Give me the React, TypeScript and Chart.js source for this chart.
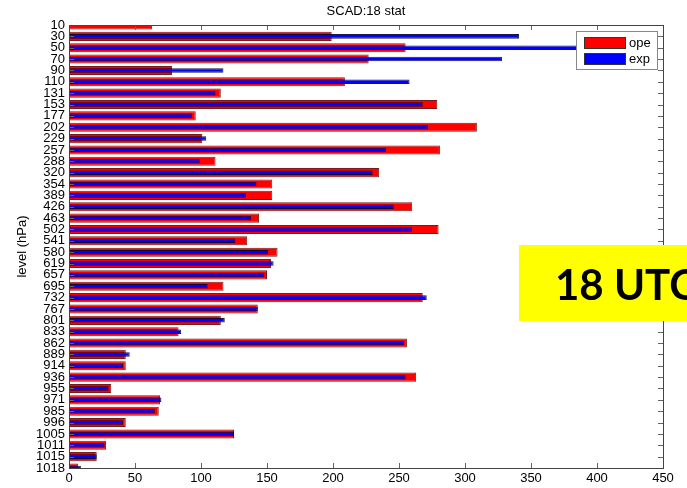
import React, { useEffect, useRef } from 'react';
import { Chart, registerables } from 'chart.js';

Chart.register(...registerables);

const levels = ['10','30','50','70','90','110','131','153','177','202','229','257','288','320','354','389','426','463','502','541','580','619','657','695','732','767','801','833','862','889','914','936','955','971','985','996','1005','1011','1015','1018'];
const opeValues = [63,199,255,227,78,209,115,279,96,309,101,281,111,235,154,154,260,144,280,135,158,153,150,117,268,143,115,83,256,43,43,263,32,69,68,43,125,28,21,7];
const expValues = [0,341,395,328,117,258,111,268,93,272,104,240,99,230,142,134,246,138,260,126,151,155,148,105,271,143,118,85,254,46,41,255,30,70,65,41,125,27,21,9];
const xTickValues = [0,50,100,150,200,250,300,350,400,450];
const seriesNames = ['ope', 'exp'];
const seriesColors = ['#ff0000', '#0000ff'];
const titleText = 'SCAD:18 stat';
const yAxisTitle = 'level (hPa)';
const stampText = '18 UTC';

const FONT = '"Liberation Sans", Arial, Helvetica, sans-serif';

const decorPlugin = {
  id: 'decor',
  afterDatasetsDraw(chart: any) {
    const ctx = chart.ctx as CanvasRenderingContext2D;
    const { left, right, top, bottom } = chart.chartArea;
    const xs = chart.scales.x;
    const ys = chart.scales.y;
    ctx.save();
    // ticks
    ctx.strokeStyle = '#666';
    ctx.lineWidth = 1;
    const tl = 5;
    ctx.beginPath();
    xTickValues.forEach((v) => {
      const px = Math.round(xs.getPixelForValue(v)) + 0.5;
      ctx.moveTo(px, top);
      ctx.lineTo(px, top + tl);
      ctx.moveTo(px, bottom);
      ctx.lineTo(px, bottom - tl);
    });
    levels.forEach((_, i) => {
      const py = Math.round(ys.getPixelForValue(i)) + 0.5;
      ctx.moveTo(left, py);
      ctx.lineTo(left + tl, py);
      ctx.moveTo(right, py);
      ctx.lineTo(right - tl, py);
    });
    ctx.stroke();
    // frame
    ctx.strokeStyle = '#444';
    ctx.strokeRect(Math.round(left) + 0.5, Math.round(top) + 0.5, Math.round(right - left), Math.round(bottom - top));

    // legend
    const lx = right - 87, ly = top + 6, lw = 81, lh = 38;
    ctx.fillStyle = '#fff';
    ctx.fillRect(lx, ly, lw, lh);
    ctx.strokeStyle = '#888';
    ctx.strokeRect(lx + 0.5, ly + 0.5, lw, lh);
    seriesNames.forEach((name, i) => {
      const sy = ly + 6 + i * 16;
      ctx.fillStyle = seriesColors[i];
      ctx.fillRect(lx + 8, sy, 42, 12);
      ctx.strokeStyle = '#333';
      ctx.strokeRect(lx + 8.5, sy + 0.5, 41, 11);
      ctx.fillStyle = '#000';
      ctx.font = `13px ${FONT}`;
      ctx.textBaseline = 'middle';
      ctx.textAlign = 'left';
      ctx.fillText(name, lx + 53, sy + 6.5);
    });

    // title
    ctx.fillStyle = '#000';
    ctx.font = `13px ${FONT}`;
    ctx.textAlign = 'center';
    ctx.textBaseline = 'middle';
    ctx.fillText(titleText, (left + right) / 2, 11);

    // y axis title
    ctx.save();
    ctx.translate(22.5, (top + bottom) / 2);
    ctx.rotate(-Math.PI / 2);
    ctx.fillText(yAxisTitle, 0, 0);
    ctx.restore();

    // yellow stamp
    ctx.fillStyle = '#ffff00';
    ctx.fillRect(519, 245, 168, 76);
    ctx.fillStyle = '#000';
    ctx.font = `bold 42px Lato, "Open Sans", sans-serif`;
    ctx.textAlign = 'left';
    ctx.textBaseline = 'alphabetic';
    ctx.fillText(stampText, 555, 300);
    ctx.restore();
  },
};

export default function App() {
  const ref = useRef<HTMLCanvasElement | null>(null);
  useEffect(() => {
    document.body.style.margin = '0';
    const canvas = ref.current;
    if (!canvas) return;
    const chart = new Chart(canvas, {
      type: 'bar',
      data: {
        labels: levels,
        datasets: [
          {
            label: seriesNames[0],
            data: opeValues,
            backgroundColor: seriesColors[0],
            borderColor: 'rgba(110,0,0,0.9)',
            borderWidth: 1,
            borderSkipped: false,
            grouped: false,
            categoryPercentage: 1,
            barPercentage: 0.8,
            order: 2,
          } as any,
          {
            label: seriesNames[1],
            data: expValues,
            backgroundColor: seriesColors[1],
            borderColor: 'rgba(0,0,50,0.9)',
            borderWidth: 1,
            borderSkipped: false,
            grouped: false,
            categoryPercentage: 1,
            barPercentage: 0.4,
            order: 1,
          } as any,
        ],
      },
      options: {
        indexAxis: 'y',
        responsive: false,
        animation: false,
        layout: { padding: { top: 25, right: 24, bottom: 0, left: 0 } },
        plugins: { legend: { display: false }, title: { display: false }, tooltip: { enabled: false } },
        scales: {
          x: {
            type: 'linear',
            min: 0,
            max: 450,
            grid: { display: false, drawTicks: false },
            border: { display: false },
            ticks: {
              stepSize: 50,
              color: '#000',
              font: { family: FONT, size: 13 },
              padding: 3,
              maxRotation: 0,
            },
            afterFit: (s: any) => { s.height = 20; },
          },
          y: {
            type: 'category',
            offset: false,
            grid: { display: false, drawTicks: false },
            border: { display: false },
            ticks: {
              autoSkip: false,
              color: '#000',
              font: { family: FONT, size: 13 },
              padding: 4,
            },
            afterFit: (s: any) => { s.width = 69; },
          },
        },
      },
      plugins: [decorPlugin],
    } as any);
    return () => chart.destroy();
  }, []);
  return <canvas ref={ref} width={687} height={488} style={{ display: 'block' }} />;
}
